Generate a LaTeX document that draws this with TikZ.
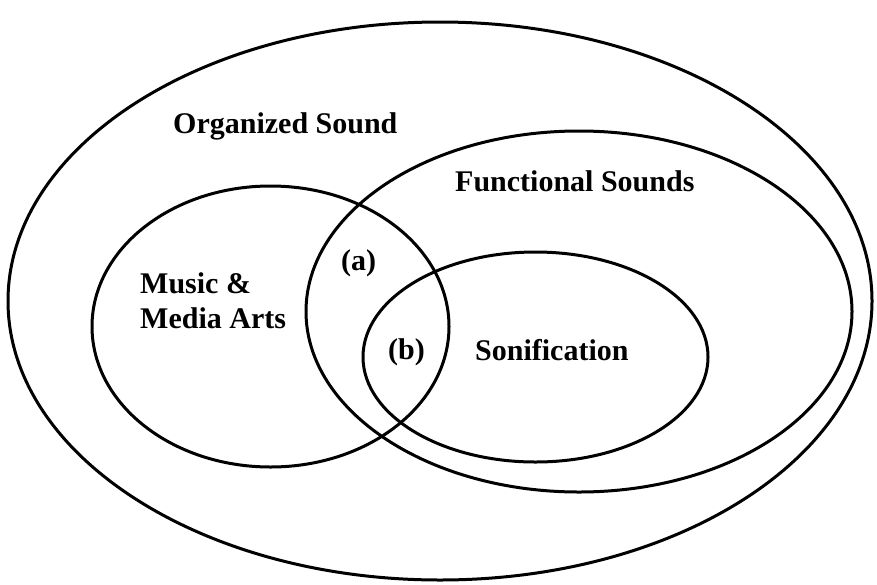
\documentclass[tikz,border=0pt]{standalone}
\usepackage{fontspec}
\setmainfont{Liberation Serif}
\usetikzlibrary{shapes.geometric}
\begin{document}
\begin{tikzpicture}[x=1pt,y=-1pt,
  setring/.style={draw, line width=3pt, ellipse, inner sep=0pt},
  lbl/.style={font=\fontsize{30}{35}\selectfont\bfseries, anchor=base west, inner sep=0pt}]
\useasboundingbox (0,0) rectangle (877,584);
\node[setring, minimum width=864pt, minimum height=558pt] (outer) at (440,301) {};
\node[setring, minimum width=546pt, minimum height=361pt] (func) at (579,311.5) {};
\node[setring, minimum width=357pt, minimum height=281pt] (music) at (270.5,326.5) {};
\node[setring, minimum width=345pt, minimum height=210pt] (sonif) at (535.5,357) {};
\node[lbl] (tOrg) at (173,133) {Organized Sound};
\node[lbl] (tFunc) at (455,191) {Functional Sounds};
\node[lbl] (tMus1) at (140,293) {Music \&};
\node[lbl] (tMus2) at (140,328) {Media Arts};
\node[lbl] (ta) at (341,270) {(a)};
\node[lbl] (tb) at (388,359) {(b)};
\node[lbl] (tSon) at (475,360) {Sonification};
\end{tikzpicture}
\end{document}
